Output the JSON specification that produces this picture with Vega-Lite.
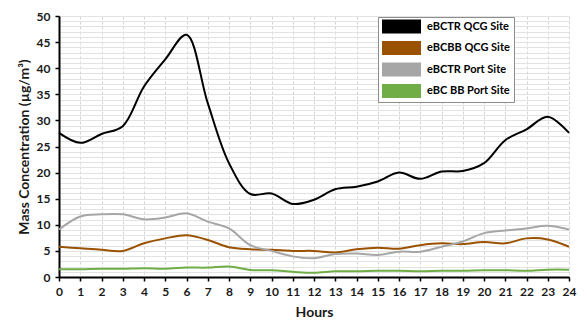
{
  "$schema": "https://vega.github.io/schema/vega-lite/v6.json",
  "autosize": "none",
  "width": 510,
  "height": 261,
  "padding": {"left": 59, "top": 16, "right": 18, "bottom": 46},
  "background": "white",
  "config": {
    "view": {"stroke": null},
    "font": "Lato",
    "axis": {"labelFont": "Lato", "titleFont": "Lato", "labelFontWeight": "bold", "titleFontWeight": "bold", "labelColor": "#1a1a1a", "titleColor": "#1a1a1a"}
  },
  "data": {"values": [
    {"hour":0,"series":"eBCTR QCG Site","value":27.6},{"hour":1,"series":"eBCTR QCG Site","value":25.7},{"hour":2,"series":"eBCTR QCG Site","value":27.4},{"hour":3,"series":"eBCTR QCG Site","value":28.9},{"hour":4,"series":"eBCTR QCG Site","value":36.5},{"hour":5,"series":"eBCTR QCG Site","value":41.7},{"hour":6,"series":"eBCTR QCG Site","value":46.4},{"hour":7,"series":"eBCTR QCG Site","value":33.3},{"hour":8,"series":"eBCTR QCG Site","value":21.8},{"hour":9,"series":"eBCTR QCG Site","value":15.9},{"hour":10,"series":"eBCTR QCG Site","value":16.0},{"hour":11,"series":"eBCTR QCG Site","value":14.0},{"hour":12,"series":"eBCTR QCG Site","value":14.8},{"hour":13,"series":"eBCTR QCG Site","value":16.8},{"hour":14,"series":"eBCTR QCG Site","value":17.3},{"hour":15,"series":"eBCTR QCG Site","value":18.3},{"hour":16,"series":"eBCTR QCG Site","value":20.0},{"hour":17,"series":"eBCTR QCG Site","value":18.8},{"hour":18,"series":"eBCTR QCG Site","value":20.2},{"hour":19,"series":"eBCTR QCG Site","value":20.3},{"hour":20,"series":"eBCTR QCG Site","value":21.8},{"hour":21,"series":"eBCTR QCG Site","value":26.2},{"hour":22,"series":"eBCTR QCG Site","value":28.3},{"hour":23,"series":"eBCTR QCG Site","value":30.7},{"hour":24,"series":"eBCTR QCG Site","value":27.6},
    {"hour":0,"series":"eBCBB QCG Site","value":5.8},{"hour":1,"series":"eBCBB QCG Site","value":5.5},{"hour":2,"series":"eBCBB QCG Site","value":5.2},{"hour":3,"series":"eBCBB QCG Site","value":5.0},{"hour":4,"series":"eBCBB QCG Site","value":6.45},{"hour":5,"series":"eBCBB QCG Site","value":7.4},{"hour":6,"series":"eBCBB QCG Site","value":8.0},{"hour":7,"series":"eBCBB QCG Site","value":7.1},{"hour":8,"series":"eBCBB QCG Site","value":5.7},{"hour":9,"series":"eBCBB QCG Site","value":5.3},{"hour":10,"series":"eBCBB QCG Site","value":5.2},{"hour":11,"series":"eBCBB QCG Site","value":5.0},{"hour":12,"series":"eBCBB QCG Site","value":5.0},{"hour":13,"series":"eBCBB QCG Site","value":4.7},{"hour":14,"series":"eBCBB QCG Site","value":5.3},{"hour":15,"series":"eBCBB QCG Site","value":5.6},{"hour":16,"series":"eBCBB QCG Site","value":5.4},{"hour":17,"series":"eBCBB QCG Site","value":6.1},{"hour":18,"series":"eBCBB QCG Site","value":6.45},{"hour":19,"series":"eBCBB QCG Site","value":6.3},{"hour":20,"series":"eBCBB QCG Site","value":6.7},{"hour":21,"series":"eBCBB QCG Site","value":6.45},{"hour":22,"series":"eBCBB QCG Site","value":7.4},{"hour":23,"series":"eBCBB QCG Site","value":7.2},{"hour":24,"series":"eBCBB QCG Site","value":5.8},
    {"hour":0,"series":"eBCTR Port Site","value":9.1},{"hour":1,"series":"eBCTR Port Site","value":11.6},{"hour":2,"series":"eBCTR Port Site","value":12.0},{"hour":3,"series":"eBCTR Port Site","value":12.0},{"hour":4,"series":"eBCTR Port Site","value":11.05},{"hour":5,"series":"eBCTR Port Site","value":11.4},{"hour":6,"series":"eBCTR Port Site","value":12.2},{"hour":7,"series":"eBCTR Port Site","value":10.6},{"hour":8,"series":"eBCTR Port Site","value":9.3},{"hour":9,"series":"eBCTR Port Site","value":6.1},{"hour":10,"series":"eBCTR Port Site","value":5.0},{"hour":11,"series":"eBCTR Port Site","value":3.95},{"hour":12,"series":"eBCTR Port Site","value":3.6},{"hour":13,"series":"eBCTR Port Site","value":4.4},{"hour":14,"series":"eBCTR Port Site","value":4.5},{"hour":15,"series":"eBCTR Port Site","value":4.2},{"hour":16,"series":"eBCTR Port Site","value":4.85},{"hour":17,"series":"eBCTR Port Site","value":4.85},{"hour":18,"series":"eBCTR Port Site","value":5.8},{"hour":19,"series":"eBCTR Port Site","value":6.8},{"hour":20,"series":"eBCTR Port Site","value":8.4},{"hour":21,"series":"eBCTR Port Site","value":8.9},{"hour":22,"series":"eBCTR Port Site","value":9.3},{"hour":23,"series":"eBCTR Port Site","value":9.8},{"hour":24,"series":"eBCTR Port Site","value":9.1},
    {"hour":0,"series":"eBC BB Port Site","value":1.5},{"hour":1,"series":"eBC BB Port Site","value":1.5},{"hour":2,"series":"eBC BB Port Site","value":1.6},{"hour":3,"series":"eBC BB Port Site","value":1.6},{"hour":4,"series":"eBC BB Port Site","value":1.7},{"hour":5,"series":"eBC BB Port Site","value":1.6},{"hour":6,"series":"eBC BB Port Site","value":1.8},{"hour":7,"series":"eBC BB Port Site","value":1.8},{"hour":8,"series":"eBC BB Port Site","value":2.0},{"hour":9,"series":"eBC BB Port Site","value":1.35},{"hour":10,"series":"eBC BB Port Site","value":1.3},{"hour":11,"series":"eBC BB Port Site","value":1.0},{"hour":12,"series":"eBC BB Port Site","value":0.8},{"hour":13,"series":"eBC BB Port Site","value":1.1},{"hour":14,"series":"eBC BB Port Site","value":1.1},{"hour":15,"series":"eBC BB Port Site","value":1.2},{"hour":16,"series":"eBC BB Port Site","value":1.2},{"hour":17,"series":"eBC BB Port Site","value":1.1},{"hour":18,"series":"eBC BB Port Site","value":1.2},{"hour":19,"series":"eBC BB Port Site","value":1.2},{"hour":20,"series":"eBC BB Port Site","value":1.3},{"hour":21,"series":"eBC BB Port Site","value":1.3},{"hour":22,"series":"eBC BB Port Site","value":1.2},{"hour":23,"series":"eBC BB Port Site","value":1.4},{"hour":24,"series":"eBC BB Port Site","value":1.4}
  ]},
  "mark": {"type": "line", "interpolate": "catmull-rom", "strokeWidth": 2},
  "encoding": {
    "x": {
      "field": "hour", "type": "quantitative",
      "scale": {"domain": [0, 24], "nice": false, "zero": false},
      "axis": {
        "title": "Hours", "titleFontSize": 14, "titlePadding": 8,
        "values": [0,1,2,3,4,5,6,7,8,9,10,11,12,13,14,15,16,17,18,19,20,21,22,23,24],
        "labelFontSize": 12, "labelPadding": 5, "labelFlush": false, "labelOverlap": false,
        "tickSize": 4, "tickColor": "#000", "tickWidth": 1.5,
        "domainColor": "#000", "domainWidth": 2,
        "grid": true, "gridColor": "#d4d4d4", "gridDash": [3, 2], "gridWidth": 1
      }
    },
    "y": {
      "field": "value", "type": "quantitative",
      "scale": {"domain": [0, 50], "nice": false},
      "axis": {
        "title": "Mass Concentration (µg/m³)", "titleFontSize": 14, "titlePadding": 5,
        "values": [0,1,2,3,4,5,6,7,8,9,10,11,12,13,14,15,16,17,18,19,20,21,22,23,24,25,26,27,28,29,30,31,32,33,34,35,36,37,38,39,40,41,42,43,44,45,46,47,48,49,50],
        "labelExpr": "datum.value % 5 === 0 ? datum.label : ''",
        "labelFontSize": 12, "labelPadding": 5, "labelOverlap": false, "labelFlush": false,
        "tickSize": 4, "tickColor": "#000", "tickWidth": 1.5,
        "tickOpacity": {"condition": {"test": "datum.value % 5 === 0", "value": 1}, "value": 0},
        "domainColor": "#000", "domainWidth": 2,
        "grid": true, "gridColor": "#e3e3e3", "gridWidth": 1
      }
    },
    "color": {
      "field": "series", "type": "nominal",
      "scale": {
        "domain": ["eBCTR QCG Site", "eBCBB QCG Site", "eBCTR Port Site", "eBC BB Port Site"],
        "range": ["#000000", "#9a5200", "#a6a6a6", "#70ad47"]
      },
      "legend": {
        "title": null, "orient": "none", "legendX": 319, "legendY": 1,
        "symbolType": "M-3.9,-1.4H3.9V1.4H-3.9Z", "symbolSize": 100, "symbolStrokeWidth": 0,
        "symbolOffset": 14,
        "labelFont": "Lato", "labelFontWeight": "bold", "labelFontSize": 11, "labelColor": "#000",
        "labelOffset": 20, "rowPadding": 6.5,
        "strokeColor": "#8c8c8c", "fillColor": "white", "padding": 4,
        "encode": {"symbols": {"update": {"fill": {"scale": "color", "field": "value"}, "fillOpacity": {"value": 1}, "strokeWidth": {"value": 0}}}}
      }
    }
  }
}
